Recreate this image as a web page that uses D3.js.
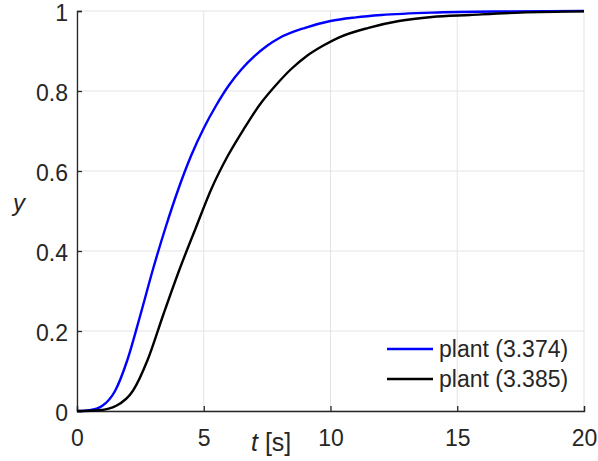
<!DOCTYPE html>
<html>
<head>
<meta charset="utf-8">
<script src="https://cdn.jsdelivr.net/npm/d3@7"></script>
<style>
  body { margin: 0; background: #fff; }
  text { font-family: "Liberation Sans", Arial, sans-serif; fill: #262626; }
</style>
</head>
<body>
<div id="chart"></div>
<script>
// step responses
var blueT = [0, 0.5, 1.0, 1.5, 2.0, 2.5, 3.0, 3.5, 4.0, 4.5, 5.0, 5.5, 6.0, 6.5, 7.0, 7.5, 8.0, 9.0, 10, 11, 12, 14, 17, 20];
var blueY = [0, 0.002, 0.013, 0.05, 0.13, 0.24, 0.355, 0.46, 0.555, 0.638, 0.707, 0.765, 0.815, 0.855, 0.887, 0.913, 0.933, 0.958, 0.975, 0.984, 0.99, 0.996, 0.999, 1.0];

var blackT = [0, 0.9, 1.55, 2.2, 2.8, 3.4, 4.05, 4.7, 5.3, 5.95, 6.6, 7.2, 7.85, 8.45, 9.05, 9.7, 10.3, 11.5, 12.7, 14, 15.5, 17.5, 20];
var blackY = [0, 0.002, 0.013, 0.05, 0.13, 0.24, 0.355, 0.46, 0.555, 0.638, 0.707, 0.765, 0.815, 0.855, 0.887, 0.913, 0.933, 0.958, 0.975, 0.985, 0.99, 0.996, 0.999];

var xTicks = [0, 5, 10, 15, 20];
var yTicks = [0, 0.2, 0.4, 0.6, 0.8, 1];
var seriesNames = ["plant (3.374)", "plant (3.385)"];
var seriesColors = ["#0000ff", "#000000"];

var margin = {top: 11, right: 14, bottom: 50, left: 77};
var W = 598, H = 461;
var w = W - margin.left - margin.right;
var h = H - margin.top - margin.bottom;

var svg = d3.select("#chart").append("svg")
  .attr("width", W)
  .attr("height", H)
  .append("g")
  .attr("transform", "translate(" + margin.left + "," + margin.top + ")");

var x = d3.scaleLinear().domain([0, 20]).range([0, w]);
var y = d3.scaleLinear().domain([0, 1]).range([h, 0]);

// grid
svg.selectAll(".gx").data(xTicks).enter().append("line")
  .attr("x1", function(d) { return x(d); }).attr("x2", function(d) { return x(d); })
  .attr("y1", 0).attr("y2", h)
  .attr("stroke", "#e3e3e3").attr("stroke-width", 1);
svg.selectAll(".gy").data(yTicks).enter().append("line")
  .attr("y1", function(d) { return y(d); }).attr("y2", function(d) { return y(d); })
  .attr("x1", 0).attr("x2", w)
  .attr("stroke", "#e3e3e3").attr("stroke-width", 1);

// axes, ticks inward
var xAxis = d3.axisBottom(x).tickValues(xTicks).tickSize(-5).tickPadding(19).tickFormat(d3.format("d"));
var yAxis = d3.axisLeft(y).tickValues(yTicks).tickSize(-5).tickPadding(9).tickFormat(function(d) { return d === 0 || d === 1 ? d : d.toFixed(1); });

var gx = svg.append("g").attr("transform", "translate(0," + h + ")").call(xAxis);
var gy = svg.append("g").call(yAxis);
[gx, gy].forEach(function(g) {
  g.select(".domain").attr("stroke", "#262626").attr("stroke-width", 1.3);
  g.selectAll(".tick line").attr("stroke", "#262626").attr("stroke-width", 1.3);
  g.selectAll(".tick text").attr("font-size", 23).attr("font-family", "Liberation Sans, Arial, sans-serif").attr("fill", "#262626");
});
gy.selectAll(".tick text").attr("dy", "0.42em");

// curves
var line = d3.line()
  .x(function(d) { return x(d[0]); })
  .y(function(d) { return y(d[1]); })
  .curve(d3.curveMonotoneX);

var series = [d3.zip(blueT, blueY), d3.zip(blackT, blackY)];
svg.selectAll(".curve").data(series).enter().append("path")
  .attr("class", "curve")
  .attr("d", line)
  .attr("fill", "none")
  .attr("stroke", function(d, i) { return seriesColors[i]; })
  .attr("stroke-width", 2.4);

// labels
var xl = svg.append("text").attr("x", 174).attr("y", h + 40).attr("font-size", 25);
xl.append("tspan").attr("font-style", "italic").text("t");
xl.append("tspan").text(" [s]");
svg.append("text").attr("x", -58).attr("y", 200).attr("font-size", 24)
  .attr("font-style", "italic").attr("text-anchor", "middle").text("y");

// legend
var leg = svg.selectAll(".leg").data(seriesNames).enter().append("g")
  .attr("transform", function(d, i) { return "translate(" + (387 - margin.left) + "," + (349 - margin.top + i * 30) + ")"; });
leg.append("line").attr("x1", 0).attr("x2", 46).attr("y1", 0).attr("y2", 0)
  .attr("stroke", function(d, i) { return seriesColors[i]; }).attr("stroke-width", 2.4);
leg.append("text").attr("x", 52).attr("dy", "0.35em").attr("font-size", 23).text(function(d) { return d; });
</script>
</body>
</html>
